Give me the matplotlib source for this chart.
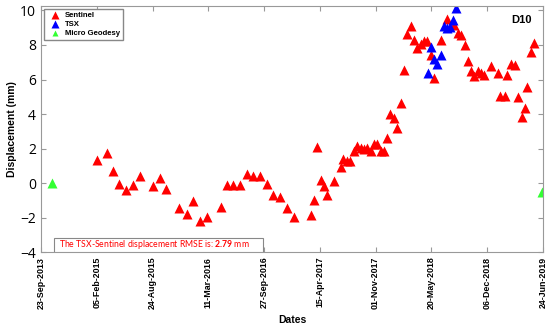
import matplotlib
matplotlib.use("Agg")
import matplotlib.pyplot as plt
from matplotlib.patches import Rectangle

# x positions: days after 05-Feb-2015 (axis ticks every 200 days)
sentinel_day = [0, 36, 59, 81, 105, 131, 155, 203, 227, 248, 296, 322, 346, 370, 394,
                445, 466, 490, 514, 538, 561, 585, 609, 633, 657, 682, 707, 767, 779,
                791, 803, 815, 827, 851, 875, 884, 896, 909, 922, 934, 946, 958, 970,
                982, 994, 1006, 1018, 1030, 1042, 1053, 1066, 1078, 1090, 1102, 1114,
                1126, 1138, 1150, 1163, 1174, 1186, 1198, 1210, 1234, 1257, 1283, 1295,
                1307, 1319, 1330, 1343, 1354, 1366, 1378, 1390, 1413, 1438, 1448, 1464,
                1473, 1485, 1500, 1510, 1524, 1535, 1544, 1558, 1570]
sentinel_disp = [1.32, 1.76, 0.70, -0.02, -0.41, -0.08, 0.41, -0.13, 0.31, -0.31, -1.43,
                 -1.76, -1.03, -2.17, -1.96, -1.36, -0.12, -0.12, -0.12, 0.54, 0.45, 0.43,
                 -0.04, -0.66, -0.81, -1.40, -1.96, -1.86, -0.95, 2.11, 0.17, -0.15, -0.66,
                 0.12, 0.93, 1.38, 1.28, 1.28, 1.84, 2.15, 2.05, 1.99, 2.05, 1.86, 2.25,
                 2.29, 1.86, 1.86, 2.63, 4.00, 3.80, 3.18, 4.62, 6.55, 8.65, 9.07, 8.30,
                 7.83, 8.03, 8.22, 8.20, 7.44, 6.09, 8.30, 9.48, 9.13, 8.68, 8.60, 8.01,
                 7.09, 6.51, 6.22, 6.51, 6.35, 6.28, 6.76, 6.35, 5.06, 5.02, 6.28, 6.90,
                 6.86, 5.00, 3.82, 4.38, 5.54, 7.58, 8.10]

tsx_day = [1188, 1199, 1210, 1222, 1234, 1244, 1257, 1268, 1279, 1288]
tsx_disp = [6.37, 7.91, 7.19, 6.90, 7.44, 9.09, 9.00, 9.05, 9.42, 10.16]

geodesy_day = [-162, 1598]
geodesy_disp = [0.0, -0.51]

tick_pos = [-200, 0, 200, 400, 600, 800, 1000, 1200, 1400, 1600]
tick_labels = ["23-Sep-2013", "05-Feb-2015", "24-Aug-2015", "11-Mar-2016",
               "27-Sep-2016", "15-Apr-2017", "01-Nov-2017", "20-May-2018",
               "06-Dec-2018", "24-Jun-2019"]
rmse = 2.79

plt.rcParams['mathtext.fontset'] = 'custom'
plt.rcParams['mathtext.bf'] = 'Lato:bold'
plt.rcParams['mathtext.rm'] = 'Lato'

fig = plt.figure(figsize=(5.5, 3.26), dpi=100)
ax = fig.add_axes([0.0745, 0.2255, 0.9125, 0.756])

ax.plot(sentinel_day, sentinel_disp, '^', color='#ff0000', ms=6.5, mec='none', label='Sentinel')
ax.plot(tsx_day, tsx_disp, '^', color='#0000ff', ms=6.5, mec='none', label='TSX')
ax.plot(geodesy_day, geodesy_disp, '^', color='#33ff33', ms=6.5, mec='none', label='Micro Geodesy')

ax.set_xlim(-200, 1600)
ax.set_ylim(-4, 10.25)
ax.set_xticks(tick_pos)
ax.set_xticklabels(tick_labels, rotation=90, fontsize=6.4, fontweight='bold',
                   family='Liberation Sans')
ax.set_yticks([-4, -2, 0, 2, 4, 6, 8, 10])
ax.set_yticklabels(['\u22124', '\u22122', '0', '2', '4', '6', '8', '10'],
                   fontsize=10, family='Open Sans')
ax.tick_params(direction='in', top=True, right=True, length=3.5, color='#999999', width=0.8)
ax.tick_params(axis='x', pad=3)
for s in ax.spines.values():
    s.set_color('#999999')
    s.set_linewidth(0.8)

ax.set_xlabel('Dates', fontsize=7.5, fontweight='bold', family='Liberation Sans', labelpad=4)
ax.set_ylabel('Displacement (mm)', fontsize=7.5, fontweight='bold', family='Liberation Sans',
              labelpad=2)

leg = ax.legend(loc='upper left', prop={'weight': 'bold', 'size': 5.6,
                                        'family': 'Liberation Sans'},
                fancybox=False, framealpha=1, edgecolor='#888888', borderpad=0.4,
                handletextpad=0.3, labelspacing=0.2, markerscale=0.85,
                borderaxespad=0.35)
leg.legend_handles[2].set_markersize(4)

ax.text(0.978, 0.945, 'D10', transform=ax.transAxes, ha='right', va='center',
        fontsize=8, fontweight='bold', family='Liberation Sans')

# RMSE box
ax.add_patch(Rectangle((0.026, 0.003), 0.416, 0.055, transform=ax.transAxes,
                       fc='white', ec='#888888', lw=0.8, zorder=3))
ax.text(0.036, 0.031, 'The TSX-Sentinel displacement RMSE is: $\\mathbf{%.2f}$ mm' % rmse,
        transform=ax.transAxes, ha='left', va='center', fontsize=6.25, color='#ff0000',
        family='Lato', zorder=4)

fig.savefig('out.png', dpi=100)
